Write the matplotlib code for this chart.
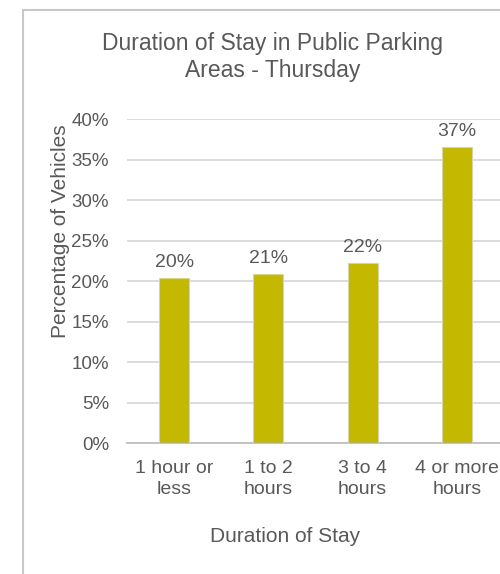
import matplotlib.pyplot as plt
from matplotlib.patches import Rectangle

# Data
categories = ['1 hour or\nless', '1 to 2\nhours', '3 to 4\nhours', '4 or more\nhours']
values = [0.204, 0.209, 0.222, 0.366]
labels = ['20%', '21%', '22%', '37%']
yticks = [0, 0.05, 0.10, 0.15, 0.20, 0.25, 0.30, 0.35, 0.40]
ytick_labels = ['0%', '5%', '10%', '15%', '20%', '25%', '30%', '35%', '40%']

text_color = '#595959'
bar_color = '#c4b800'
plt.rcParams['font.family'] = ['Liberation Sans', 'DejaVu Sans']

fig = plt.figure(figsize=(5.0, 5.74), dpi=100)

# outer chart border (cropped on the right and bottom)
fig.patches.append(Rectangle((22.5 / 500, -0.1), 1.2, 1 - 10 / 574 + 0.1,
                             transform=fig.transFigure, fill=False,
                             edgecolor='#c8c8c8', linewidth=1.5))

ax = fig.add_axes([127 / 500, 1 - 443 / 574, 377 / 500, (443 - 119.3) / 574])
x = range(len(categories))
bars = ax.bar(x, values, width=0.32, color=bar_color, edgecolor='#d0d0d0', linewidth=0.8, zorder=3)

for b, lab in zip(bars, labels):
    ax.annotate(lab, (b.get_x() + b.get_width() / 2, b.get_height()),
                xytext=(0, 5), textcoords='offset points', ha='center', va='bottom',
                fontsize=14, color=text_color)

ax.set_xlim(-0.5, 3.5)
ax.set_ylim(0, 0.40)
ax.set_yticks(yticks)
ax.set_yticklabels(ytick_labels)
ax.set_xticks(list(x))
ax.set_xticklabels(categories, linespacing=1.35)
ax.tick_params(axis='both', length=0, labelsize=14, labelcolor=text_color)
ax.tick_params(axis='y', labelsize=13.5, pad=13)
ax.tick_params(axis='x', pad=12)

ax.grid(axis='y', color='#d9d9d9', linewidth=1.3, zorder=0)
for s in ['top', 'right', 'left']:
    ax.spines[s].set_visible(False)
ax.spines['bottom'].set_color('#bfbfbf')
ax.spines['bottom'].set_linewidth(1.3)

fig.text(273 / 500, 1 - 57 / 574, 'Duration of Stay in Public Parking\nAreas - Thursday',
         ha='center', va='center', fontsize=16.5, color=text_color, linespacing=1.2)
fig.text(60 / 500, 1 - 231 / 574, 'Percentage of Vehicles', rotation=90,
         ha='center', va='center', fontsize=15, color=text_color)
fig.text(285 / 500, 1 - 537 / 574, 'Duration of Stay',
         ha='center', va='center', fontsize=15, color=text_color)

fig.savefig('out.png', dpi=100)
